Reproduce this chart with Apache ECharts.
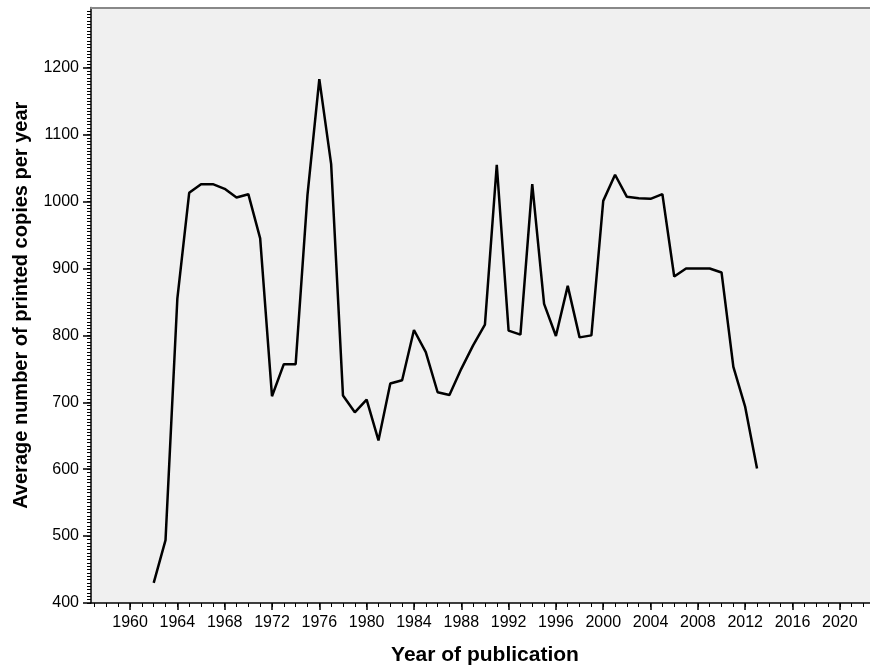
<!DOCTYPE html>
<html>
<head>
<meta charset="utf-8">
<script src="https://cdn.jsdelivr.net/npm/echarts@6/dist/echarts.min.js"></script>
<style>
html,body{margin:0;padding:0;background:#fff;}
#c{width:870px;height:668px;}
</style>
</head>
<body>
<div id="c"></div>
<script>
// ---- data ----
const years = [1962,1963,1964,1965,1966,1967,1968,1969,1970,1971,1972,1973,1974,1975,1976,1977,1978,1979,1980,1981,1982,1983,1984,1985,1986,1987,1988,1989,1990,1991,1992,1993,1994,1995,1996,1997,1998,1999,2000,2001,2002,2003,2004,2005,2006,2007,2008,2009,2010,2011,2012,2013];
const copies = [430,494,855,1013,1026,1026,1019,1006,1011,945,709,757,757,1010,1183,1056,710,685,704,643,728,733,808,775,715,711,750,785,816,1055,807,801,1026,847,799,874,797,800,1001,1040,1007,1005,1004,1011,888,900,900,900,894,753,693,601];
const xTickLabels = [1960,1964,1968,1972,1976,1980,1984,1988,1992,1996,2000,2004,2008,2012,2016,2020];
const yTickLabels = [400,500,600,700,800,900,1000,1100,1200];
const xTitle = 'Year of publication';
const yTitle = 'Average number of printed copies per year';

// ---- layout helpers ----
const X_MIN = 1956.7, X_MAX = 2022.55, Y_MIN = 400, Y_MAX = 1290;
const xMinor = []; for (let y = 1957; y <= 2022; y++) xMinor.push(y);
const yMinor = []; for (let v = 400; v <= 1285; v += 5) yMinor.push(v);
const FONT = '"Liberation Sans", Arial, sans-serif';
const plain = v => String(Math.round(v));

const chart = echarts.init(document.getElementById('c'), null, {renderer: 'canvas'});
chart.setOption({
  animation: false,
  backgroundColor: '#ffffff',
  grid: {left: 91, right: 0, top: 7.5, bottom: 65, show: true, backgroundColor: '#f0f0f0', borderWidth: 0, containLabel: false, outerBoundsMode: 'none'},
  xAxis: [
    {
      type: 'value', min: X_MIN, max: X_MAX, position: 'bottom',
      name: xTitle, nameLocation: 'middle', nameGap: 42,
      nameTextStyle: {fontFamily: FONT, fontWeight: 'bold', fontSize: 21, color: '#000', padding: [0, 0, 0, 9]},
      axisLine: {show: true, lineStyle: {color: '#000', width: 1.5}},
      axisTick: {show: true, customValues: xTickLabels, length: 7, lineStyle: {color: '#000', width: 1.5}},
      axisLabel: {customValues: xTickLabels, formatter: plain, fontFamily: FONT, fontSize: 16, color: '#000', margin: 12},
      splitLine: {show: false}
    },
    {
      type: 'value', min: X_MIN, max: X_MAX, position: 'bottom',
      axisLine: {show: false},
      axisTick: {show: true, customValues: xMinor, length: 4, lineStyle: {color: '#000', width: 1}},
      axisLabel: {show: false},
      splitLine: {show: false}
    },
    {
      type: 'value', min: X_MIN, max: X_MAX, position: 'top',
      axisLine: {show: true, lineStyle: {color: '#888', width: 2}},
      axisTick: {show: false}, axisLabel: {show: false}, splitLine: {show: false}
    }
  ],
  yAxis: [
    {
      type: 'value', min: Y_MIN, max: Y_MAX, position: 'left',
      name: yTitle, nameLocation: 'middle', nameGap: 60,
      nameTextStyle: {fontFamily: FONT, fontWeight: 'bold', fontSize: 20, color: '#000'},
      axisLine: {show: true, lineStyle: {color: '#000', width: 1.5}},
      axisTick: {show: true, customValues: yTickLabels, length: 8, lineStyle: {color: '#000', width: 1.5}},
      axisLabel: {customValues: yTickLabels, formatter: plain, fontFamily: FONT, fontSize: 16, color: '#000', margin: 12},
      splitLine: {show: false}
    },
    {
      type: 'value', min: Y_MIN, max: Y_MAX, position: 'left',
      axisLine: {show: false},
      axisTick: {show: true, customValues: yMinor, length: 4, lineStyle: {color: '#000', width: 1}},
      axisLabel: {show: false},
      splitLine: {show: false}
    }
  ],
  series: [{
    type: 'line',
    xAxisIndex: 0, yAxisIndex: 0,
    data: years.map((y, i) => [y, copies[i]]),
    symbol: 'none',
    lineStyle: {color: '#000', width: 2.5, join: 'bevel'},
    z: 5
  }]
});
</script>
</body>
</html>
